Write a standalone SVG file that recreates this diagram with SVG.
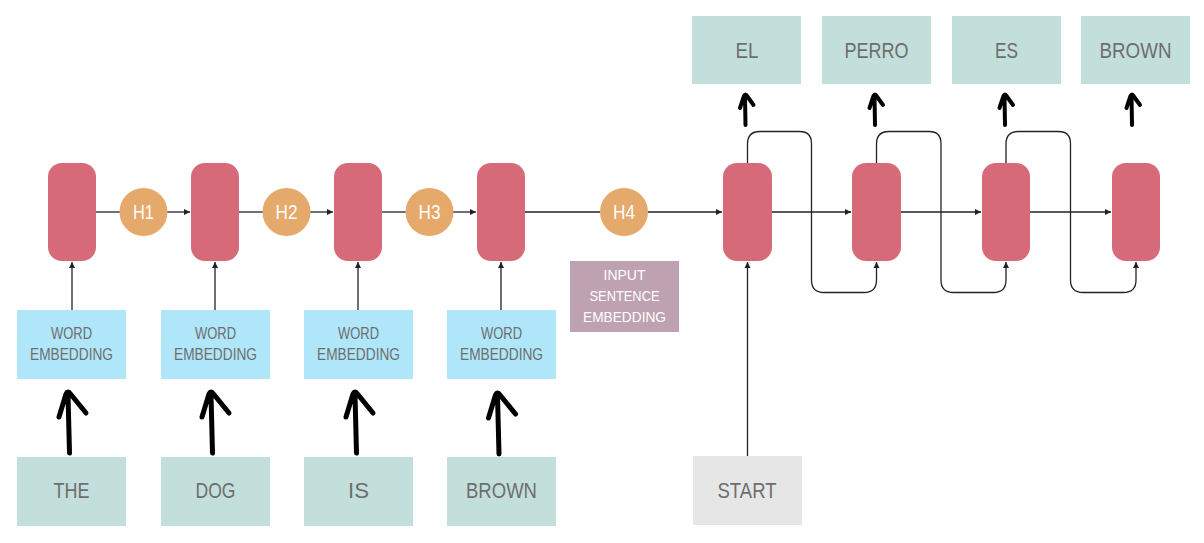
<svg xmlns="http://www.w3.org/2000/svg" xmlns:xlink="http://www.w3.org/1999/xlink" width="1204" height="543" viewBox="0 0 1204 543">
<style>
.cell{fill:#d76a78}
.h{fill:#e5a96b}
.emb{fill:#afe6f9}
.word{fill:#c3dfdb}
.start{fill:#e6e6e6}
.ise{fill:#bea2b1}
.t{font-family:"Liberation Sans",Arial,sans-serif;fill:#6e6e6e;text-anchor:middle}
.ts{font-size:16px}
.tl{font-size:22px}
.tw{font-family:"Liberation Sans",Arial,sans-serif;fill:#ffffff;text-anchor:middle}
.conn{fill:none;stroke:#222;stroke-width:1.3}
.hand{fill:none;stroke:#000;stroke-linecap:round;stroke-linejoin:round}
</style>
<defs>
<marker id="ah" markerWidth="8" markerHeight="8" refX="6" refY="4" orient="auto" markerUnits="userSpaceOnUse">
<path d="M0,1 L6,4 L0,7 Z" fill="#222"/>
</marker>
<path id="bigArrow" class="hand" stroke-width="5" d="M1.5,63 L0,5 M-9,27 L-2,4 Q0,0 2.5,4 L18,23"/>
<path id="smallArrow" class="hand" stroke-width="4" d="M0,31 L-0.5,2 M-5.5,14 L-1.5,2 Q0,-1 1.5,2 L8,11"/>
</defs>
<rect width="1204" height="543" fill="#ffffff"/>

<g id="connectors">
<!-- encoder: embedding to cells -->
<path class="conn" marker-end="url(#ah)" d="M72,310 V262"/>
<path class="conn" marker-end="url(#ah)" d="M215,310 V262"/>
<path class="conn" marker-end="url(#ah)" d="M358,310 V262"/>
<path class="conn" marker-end="url(#ah)" d="M501,310 V262"/>
<!-- encoder horizontal -->
<path class="conn" d="M96,212 H120"/>
<path class="conn" marker-end="url(#ah)" d="M167,212 H190"/>
<path class="conn" d="M239,212 H263"/>
<path class="conn" marker-end="url(#ah)" d="M310,212 H333"/>
<path class="conn" d="M382,212 H406"/>
<path class="conn" marker-end="url(#ah)" d="M453,212 H476"/>
<path class="conn" d="M525,212 H600"/>
<path class="conn" marker-end="url(#ah)" d="M648,212 H722"/>
<!-- decoder horizontal -->
<path class="conn" marker-end="url(#ah)" d="M772,212 H851"/>
<path class="conn" marker-end="url(#ah)" d="M901,212 H981"/>
<path class="conn" marker-end="url(#ah)" d="M1030,212 H1111"/>
<!-- start -->
<path class="conn" marker-end="url(#ah)" d="M747.5,456 V262"/>
<!-- feedback loops -->
<path class="conn" marker-end="url(#ah)" d="M747.5,163 V144 Q747.5,131.5 760,131.5 H799.5 Q811.5,131.5 811.5,143.5 V280 Q811.5,292.5 824,292.5 H864 Q876.5,292.5 876.5,280 V262"/>
<path class="conn" marker-end="url(#ah)" d="M876.5,163 V144 Q876.5,131.5 889,131.5 H929 Q941,131.5 941,143.5 V280 Q941,292.5 953.5,292.5 H993.5 Q1006,292.5 1006,280 V262"/>
<path class="conn" marker-end="url(#ah)" d="M1006,163 V144 Q1006,131.5 1018.5,131.5 H1058.5 Q1070.5,131.5 1070.5,143.5 V280 Q1070.5,292.5 1083,292.5 H1123.5 Q1136,292.5 1136,280 V262"/>
<!-- hand-drawn arrows -->
<use xlink:href="#bigArrow" transform="translate(68,390)"/>
<use xlink:href="#bigArrow" transform="translate(211,390)"/>
<use xlink:href="#bigArrow" transform="translate(355,390)"/>
<use xlink:href="#bigArrow" transform="translate(497.5,391)"/>
<use xlink:href="#smallArrow" transform="translate(745.5,94)"/>
<use xlink:href="#smallArrow" transform="translate(875,94)"/>
<use xlink:href="#smallArrow" transform="translate(1005,94)"/>
<use xlink:href="#smallArrow" transform="translate(1132,94)"/>
</g>

<!-- encoder cells -->
<g id="enc1"><rect class="cell" x="48" y="163" width="48" height="98" rx="14"/></g>
<g id="enc2"><rect class="cell" x="191" y="163" width="48" height="98" rx="14"/></g>
<g id="enc3"><rect class="cell" x="334" y="163" width="48" height="98" rx="14"/></g>
<g id="enc4"><rect class="cell" x="477" y="163" width="48" height="98" rx="14"/></g>

<!-- hidden states -->
<g id="h1"><circle class="h" cx="143.5" cy="212" r="24"/><text class="tw" x="143.5" y="219" font-size="21" textLength="21" lengthAdjust="spacingAndGlyphs">H1</text></g>
<g id="h2"><circle class="h" cx="286.5" cy="212" r="24"/><text class="tw" x="286.5" y="219" font-size="21" textLength="22" lengthAdjust="spacingAndGlyphs">H2</text></g>
<g id="h3"><circle class="h" cx="429.5" cy="212" r="24"/><text class="tw" x="429.5" y="219" font-size="21" textLength="22" lengthAdjust="spacingAndGlyphs">H3</text></g>
<g id="h4"><circle class="h" cx="624" cy="212" r="24"/><text class="tw" x="624" y="219" font-size="21" textLength="22" lengthAdjust="spacingAndGlyphs">H4</text></g>

<!-- word embeddings -->
<g id="emb1"><rect class="emb" x="17" y="310" width="109" height="69"/><text class="t ts" x="71.5" y="339" textLength="41" lengthAdjust="spacingAndGlyphs">WORD</text><text class="t ts" x="71.5" y="359.5" textLength="83" lengthAdjust="spacingAndGlyphs">EMBEDDING</text></g>
<g id="emb2"><rect class="emb" x="161" y="310" width="109" height="69"/><text class="t ts" x="215.5" y="339" textLength="41" lengthAdjust="spacingAndGlyphs">WORD</text><text class="t ts" x="215.5" y="359.5" textLength="83" lengthAdjust="spacingAndGlyphs">EMBEDDING</text></g>
<g id="emb3"><rect class="emb" x="304" y="310" width="109" height="69"/><text class="t ts" x="358.5" y="339" textLength="41" lengthAdjust="spacingAndGlyphs">WORD</text><text class="t ts" x="358.5" y="359.5" textLength="83" lengthAdjust="spacingAndGlyphs">EMBEDDING</text></g>
<g id="emb4"><rect class="emb" x="447" y="310" width="109" height="69"/><text class="t ts" x="501.5" y="339" textLength="41" lengthAdjust="spacingAndGlyphs">WORD</text><text class="t ts" x="501.5" y="359.5" textLength="83" lengthAdjust="spacingAndGlyphs">EMBEDDING</text></g>

<!-- input words -->
<g id="w-the"><rect class="word" x="17" y="457" width="109" height="69"/><text class="t tl" x="71.5" y="498" textLength="36" lengthAdjust="spacingAndGlyphs">THE</text></g>
<g id="w-dog"><rect class="word" x="161" y="457" width="109" height="69"/><text class="t tl" x="215.5" y="498" textLength="40" lengthAdjust="spacingAndGlyphs">DOG</text></g>
<g id="w-is"><rect class="word" x="304" y="457" width="109" height="69"/><text class="t tl" x="358.5" y="498" textLength="21" lengthAdjust="spacingAndGlyphs">IS</text></g>
<g id="w-brown"><rect class="word" x="447" y="457" width="109" height="69"/><text class="t tl" x="501.5" y="498" textLength="71" lengthAdjust="spacingAndGlyphs">BROWN</text></g>

<!-- input sentence embedding -->
<g id="ise"><rect class="ise" x="570" y="261" width="109" height="71"/>
<text class="tw" x="624.5" y="280" font-size="15" textLength="42" lengthAdjust="spacingAndGlyphs">INPUT</text>
<text class="tw" x="624.5" y="301" font-size="15" textLength="70" lengthAdjust="spacingAndGlyphs">SENTENCE</text>
<text class="tw" x="624.5" y="322" font-size="15" textLength="83" lengthAdjust="spacingAndGlyphs">EMBEDDING</text></g>

<!-- decoder cells -->
<g id="dec1"><rect class="cell" x="723" y="163" width="49" height="98" rx="14"/></g>
<g id="dec2"><rect class="cell" x="852" y="163" width="49" height="98" rx="14"/></g>
<g id="dec3"><rect class="cell" x="982" y="163" width="48" height="98" rx="14"/></g>
<g id="dec4"><rect class="cell" x="1112" y="163" width="48" height="98" rx="14"/></g>

<!-- start -->
<g id="start"><rect class="start" x="693" y="456" width="109" height="69"/><text class="t tl" x="747" y="497.5" textLength="59" lengthAdjust="spacingAndGlyphs">START</text></g>

<!-- outputs -->
<g id="o-el"><rect class="word" x="692" y="16" width="109" height="68"/><text class="t tl" x="747" y="57.5" textLength="23" lengthAdjust="spacingAndGlyphs">EL</text></g>
<g id="o-perro"><rect class="word" x="822" y="16" width="109" height="68"/><text class="t tl" x="876.5" y="57.5" textLength="64" lengthAdjust="spacingAndGlyphs">PERRO</text></g>
<g id="o-es"><rect class="word" x="952" y="16" width="109" height="68"/><text class="t tl" x="1006.5" y="57.5" textLength="23" lengthAdjust="spacingAndGlyphs">ES</text></g>
<g id="o-brown"><rect class="word" x="1081" y="16" width="109" height="68"/><text class="t tl" x="1135.5" y="57.5" textLength="72" lengthAdjust="spacingAndGlyphs">BROWN</text></g>
</svg>
